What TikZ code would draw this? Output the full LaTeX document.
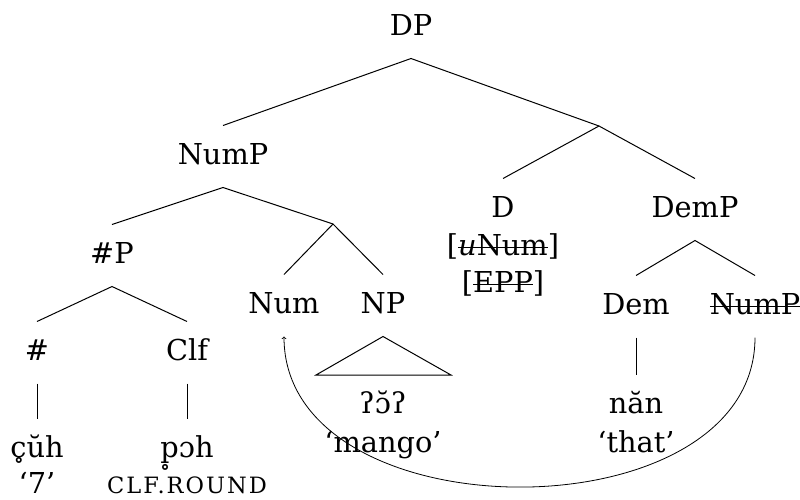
\documentclass[tikz,border=0pt]{standalone}
\usepackage{fontspec}
\setmainfont{DejaVu Serif}
\newcommand{\strk}[1]{\setbox0\hbox{#1}\rlap{\rule[0.25em]{\wd0}{1.3pt}}\box0}
\begin{document}
\begin{tikzpicture}[x=1pt,y=-1pt,line width=1pt,
  lab/.style={anchor=base,inner sep=0pt,text height=38pt,text depth=23pt,font=\fontsize{28.8}{36}\selectfont},
  gl/.style={anchor=base,inner sep=0pt,font=\fontsize{28.8}{36}\selectfont},
  sc/.style={anchor=base,inner sep=0pt,font=\fontsize{22.5}{26}\selectfont\addfontfeatures{LetterSpace=9}},
  edge/.style={line width=1pt},
  mv/.style={line width=0.8pt,->}]
\useasboundingbox (0,0) rectangle (800,499);
% labels
\node[lab] (dp) at (411,35) {DP};
\node[lab] (nump) at (223,164) {NumP};
\coordinate (dbar) at (599,126);
\node[lab] (d) at (503,217) {D};
\node[gl] (unum) at (503,255) {[\strk{\textit{u}Num}]};
\node[gl] (epp) at (503,292) {[\strk{EPP}]};
\node[lab] (demp) at (695,217) {DemP};
\node[lab] (hashp) at (112,263) {\#P};
\coordinate (numbar) at (333,224);
\node[lab] (num) at (284,313) {Num};
\node[lab] (np) at (383,313) {NP};
\node[lab] (dem) at (636,314) {Dem};
\node[lab] (numpb) at (755,314) {\strk{NumP}};
\node[lab] (hash) at (37,360) {\#};
\node[lab] (clf) at (187,360) {Clf};
% words
\node[lab] (w1) at (37,457) {c̥ŭh};
\node[gl] (g1) at (37,493) {‘7’};
\node[lab] (w2) at (187,457) {p̥ɔh};
\node[sc] (g2) at (187,493) {CLF.ROUND};
\node[lab] (w3) at (383,413) {ʔɔ̆ʔ};
\node[gl] (g3) at (383,452) {‘mango’};
\node[lab] (w4) at (636,413) {năn};
\node[gl] (g4) at (636,452) {‘that’};
\coordinate (tl) at (316,375);
\coordinate (tr) at (451,375);
% edges
\draw[edge] (nump.north) -- (dp.south) -- (dbar);
\draw[edge] (d.north) -- (dbar) -- (demp.north);
\draw[edge] (hashp.north) -- (nump.south) -- (numbar);
\draw[edge] (num.north) -- (numbar) -- (np.north);
\draw[edge] (hash.north) -- (hashp.south) -- (clf.north);
\draw[edge] (dem.north) -- (demp.south) -- (numpb.north);
\draw[edge] (hash.south) -- (w1.north);
\draw[edge] (clf.south) -- (w2.north);
\draw[edge] (dem.south) -- (w4.north);
\draw[edge] (np.south) -- (tl) -- (tr) -- cycle;
\draw[mv] (numpb.south) .. controls +(0,200) and +(0,200) .. (num.south);
\end{tikzpicture}
\end{document}
